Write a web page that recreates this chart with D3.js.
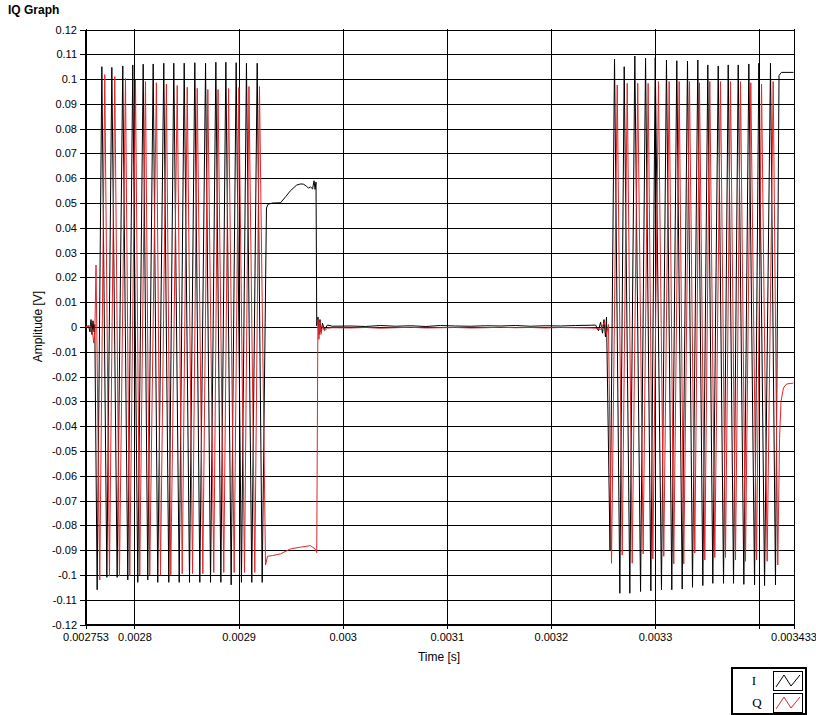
<!DOCTYPE html>
<html><head><meta charset="utf-8">
<script src="https://cdn.jsdelivr.net/npm/d3@7"></script>
<style>
body{margin:0;background:#fff}
svg{display:block}
text{font-family:"Liberation Sans",Arial,sans-serif;fill:#000}
</style>
</head><body>
<svg id="chart" width="816" height="715"></svg>
<script>
// ---- Data (time in microseconds, amplitude in volts) ----
const xTickValues = [2753, 2800, 2900, 3000, 3100, 3200, 3300, 3400, 3433];
const xTickLabels = ["0.002753","0.0028","0.0029","0.003","0.0031","0.0032","0.0033","","0.003433"];
const yTickLabels = ["-0.12","-0.11","-0.1","-0.09","-0.08","-0.07","-0.06","-0.05","-0.04","-0.03","-0.02","-0.01","0",
                     "0.01","0.02","0.03","0.04","0.05","0.06","0.07","0.08","0.09","0.1","0.11","0.12"];
const seriesNames = ["I", "Q"];

// I (black) : first burst
const iTime1 = [2753.0,2755.9,2757.3,2758.3,2759.2,2760.2,2761.2,2761.9,2764.2,2768.7,2773.5,2778.3,2783.4,2788.8,2793.6,2798.4,2803.2,2808.4,2812.8,2818.0,2822.4,2828.2,2833.0,2837.8,2843.0,2847.8,2852.9,2858.0,2862.8,2868.3,2873.1,2878.2,2883.0,2887.8,2892.9,2897.7,2902.8,2907.6,2912.7,2917.9,2922.7];
const iValue1 = [0,0.0005,-0.002,0.003,-0.003,0.0025,-0.002,0.001,-0.106,0.105,-0.101,0.1047,-0.101,0.1053,-0.102,0.1057,-0.103,0.106,-0.102,0.1061,-0.103,0.1064,-0.103,0.1064,-0.103,0.1064,-0.103,0.1066,-0.103,0.1064,-0.103,0.1068,-0.103,0.1068,-0.104,0.1066,-0.103,0.1064,-0.103,0.1064,-0.103];
// I : plateau after first burst, drop, ringing, quiet part
const iTime2 = [2926.8,2928.3,2932.6,2940.3,2945.1,2949.9,2955.7,2959.5,2962.4,2965.3,2967.2,2969.1,2971.1,2972.5,2973.5,2974.4,2975.1,2976.3,2977.3,2978.2,2979.2,2980.6,2982.5,2985.4,2990.2,3007.5,3021.9,3036.3,3050.8,3065.2,3079.6,3094.0,3108.4,3122.8,3137.2,3151.6,3166.0,3180.4,3194.8,3209.2,3223.6,3238.1];
const iValue2 = [0.048,0.0495,0.05,0.0501,0.0525,0.055,0.0572,0.0577,0.0576,0.0568,0.056,0.0565,0.0557,0.059,0.0555,0.0585,0.0005,0.004,-0.003,0.003,-0.002,0.0015,-0.001,0.0008,0.0003,0.0004,0.0002,0.0006,0.0003,0.0005,0.0002,0.0006,0.0004,0.0003,0.0005,0.0004,0.0006,0.0003,0.0005,0.0004,0.0006,0.0007];
// I : second burst and final level
const iTime3 = [3242.9,3245.7,3247.7,3249.6,3251.0,3252.4,3253.4,3256.8,3261.1,3266.2,3270.4,3275.8,3280.6,3286.1,3290.9,3296.0,3300.2,3306.2,3311.0,3316.1,3320.9,3326.1,3331.2,3336.0,3341.1,3345.9,3350.7,3355.5,3360.7,3365.8,3370.3,3375.4,3379.9,3385.3,3390.1,3395.6,3399.7,3405.2,3410.9,3415.7,3419.1,3421.5,3433.0];
const iValue3 = [0.0008,-0.0015,0.002,-0.0025,0.003,-0.004,0.004,-0.09,0.1081,-0.1074,0.105,-0.1074,0.1093,-0.1067,0.1084,-0.1064,0.1086,-0.106,0.1077,-0.106,0.1074,-0.1057,0.1073,-0.105,0.1077,-0.1043,0.1057,-0.1034,0.1053,-0.1034,0.1057,-0.1034,0.1057,-0.1038,0.1061,-0.104,0.1064,-0.1043,0.1064,-0.104,0.1015,0.1027,0.1027];

// Q (red) : first burst
const qTime1 = [2753.0,2757.8,2759.7,2761.0,2762.0,2763.1,2766.7,2771.5,2776.0,2781.1,2785.6,2791.4,2795.5,2801.0,2805.1,2810.6,2814.7,2821.1,2825.0,2830.7,2834.9,2841.1,2845.9,2850.7,2855.8,2860.3,2865.7,2870.5,2876.2,2880.3,2885.8,2890.4,2895.8,2900.3,2905.7,2910.0,2915.6,2920.1,2925.9];
const qValue1 = [0,0.0005,-0.002,-0.0065,-0.002,0.025,-0.102,0.1018,-0.1005,0.101,-0.1005,0.1003,-0.1003,0.0996,-0.1,0.099,-0.1,0.0985,-0.1,0.098,-0.1,0.0974,-0.0995,0.0967,-0.0995,0.0963,-0.0995,0.0958,-0.099,0.0958,-0.099,0.0962,-0.099,0.0966,-0.099,0.097,-0.099,0.097,-0.096];
// Q : plateau after first burst, jump, ringing, quiet part
const qTime2 = [2927.8,2932.6,2940.3,2949.9,2959.5,2969.1,2973.5,2975.1,2976.2,2977.2,2978.1,2979.2,2980.6,2982.5,2985.4,2990.2,3007.5,3021.9,3036.3,3050.8,3065.2,3079.6,3094.0,3108.4,3122.8,3137.2,3151.6,3166.0,3180.4,3194.8,3209.2,3223.6,3238.1];
const qValue2 = [-0.0925,-0.0922,-0.0915,-0.0895,-0.0888,-0.0882,-0.0895,-0.091,0.003,-0.005,0.002,-0.003,0.0005,-0.0015,-0.0005,-0.0003,-0.0004,-0.0002,-0.0005,-0.0003,-0.0001,-0.0004,-0.0003,-0.0002,-0.0004,-0.0003,-0.0001,-0.0003,-0.0002,-0.0004,-0.0002,-0.0003,-0.0004];
// Q : second burst and final level
const qTime3 = [3242.9,3247.7,3251.5,3253.4,3255.3,3258.2,3263.7,3268.5,3273.3,3278.1,3283.4,3288.6,3293.4,3297.9,3303.3,3308.4,3313.6,3318.0,3323.2,3327.6,3333.1,3338.2,3342.7,3347.8,3352.6,3357.4,3362.9,3367.7,3372.5,3377.3,3382.1,3386.9,3392.0,3397.5,3402.3,3407.7,3413.5,3417.9,3419.6,3421.0,3423.4,3426.3,3433.0];
const qValue3 = [-0.0005,-0.001,0.002,-0.003,0.001,-0.0953,0.0976,-0.092,0.0983,-0.0953,0.0983,-0.0915,0.0983,-0.0935,0.099,-0.0925,0.099,-0.0955,0.099,-0.0955,0.099,-0.0912,0.0985,-0.094,0.099,-0.093,0.099,-0.093,0.099,-0.094,0.099,-0.0945,0.0985,-0.094,0.098,-0.0945,0.099,-0.096,-0.045,-0.03,-0.0245,-0.023,-0.0226];

// ---- Chart ----
const svg = d3.select("#chart");
const plot = {left: 85, right: 793, top: 29, bottom: 624};
const x = d3.scaleLinear().domain([2753, 3433]).range([plot.left + 0.5, plot.right + 0.5]);
const y = d3.scaleLinear().domain([-0.12, 0.12]).range([plot.bottom + 0.5, plot.top + 0.5]);
const yTickValues = yTickLabels.map(Number);

const zip = (t, v) => t.map((d, i) => [d, v[i]]);
const iData = zip(iTime1, iValue1).concat(zip(iTime2, iValue2), zip(iTime3, iValue3));
const qData = zip(qTime1, qValue1).concat(zip(qTime2, qValue2), zip(qTime3, qValue3));

// title
svg.append("text").attr("x", 8).attr("y", 13.5)
  .style("font-weight", "bold").style("font-size", "12px").text("IQ Graph");

// grid
const grid = svg.append("g").attr("shape-rendering", "crispEdges");
grid.selectAll("line.h").data(yTickValues).join("line")
  .attr("x1", plot.left).attr("x2", plot.right + 1)
  .attr("y1", d => Math.round(y(d)) + 0.5).attr("y2", d => Math.round(y(d)) + 0.5)
  .attr("stroke", "#000").attr("stroke-width", 1);
grid.selectAll("line.v").data(xTickValues).join("line")
  .attr("y1", plot.top).attr("y2", plot.bottom + 1)
  .attr("x1", d => Math.round(x(d)) + 0.5).attr("x2", d => Math.round(x(d)) + 0.5)
  .attr("stroke", "#000").attr("stroke-width", 1);

// axes
const yAxis = d3.axisLeft(y).tickValues(yTickValues).tickFormat((d, i) => yTickLabels[i]).tickSize(5).tickPadding(3);
const xAxis = d3.axisBottom(x).tickValues(xTickValues).tickFormat((d, i) => xTickLabels[i]).tickSize(5).tickPadding(4);
const gy = svg.append("g").attr("transform", `translate(${plot.left},0)`).call(yAxis);
const gx = svg.append("g").attr("transform", `translate(0,${plot.bottom})`).call(xAxis);
[gy, gx].forEach(g => {
  g.attr("shape-rendering", "crispEdges");
  g.select(".domain").attr("stroke", "#000");
  g.selectAll(".tick line").attr("stroke", "#000");
  g.selectAll(".tick text").style("font-family", '"Liberation Sans",Arial,sans-serif').style("font-size", "11px").attr("fill", "#000");
});

// series
const line = d3.line().x(d => x(d[0])).y(d => y(d[1]));
const plotG = svg.append("g");
plotG.append("path").datum(iData).attr("d", line).attr("fill", "none").attr("stroke", "#000").attr("stroke-width", 1);
plotG.append("path").datum(qData).attr("d", line).attr("fill", "none").attr("stroke", "#e0262b").attr("stroke-width", 1);

// axis titles
svg.append("text").attr("transform", `translate(42,${(plot.top + plot.bottom) / 2}) rotate(-90)`)
  .attr("text-anchor", "middle").style("font-size", "12px").text("Amplitude [V]");
svg.append("text").attr("x", 439).attr("y", 661).attr("text-anchor", "middle")
  .style("font-size", "12px").text("Time [s]");

// legend
const lg = svg.append("g").attr("shape-rendering", "crispEdges");
lg.append("rect").attr("x", 732).attr("y", 668).attr("width", 74).attr("height", 46)
  .attr("fill", "#fff").attr("stroke", "#000").attr("stroke-width", 2);
const legendColors = ["#000", "#e0262b"];
const legendTextX = [754, 757];
seriesNames.forEach((name, i) => {
  const top = 671 + i * 22;
  svg.append("text").attr("x", legendTextX[i]).attr("y", top + 14).attr("text-anchor", "middle")
    .style("font-family", '"Liberation Serif","Times New Roman",serif').style("font-size", "13px").text(name);
  lg.append("rect").attr("x", 773.5).attr("y", top + 0.5).attr("width", 29).attr("height", 19)
    .attr("fill", "#fff").attr("stroke", "#000");
  svg.append("polyline")
    .attr("points", `${776},${top + 16} ${784},${top + 4} ${791},${top + 15} ${800},${top + 4}`)
    .attr("fill", "none").attr("stroke", legendColors[i]).attr("stroke-width", 1);
});
</script>
</body></html>
